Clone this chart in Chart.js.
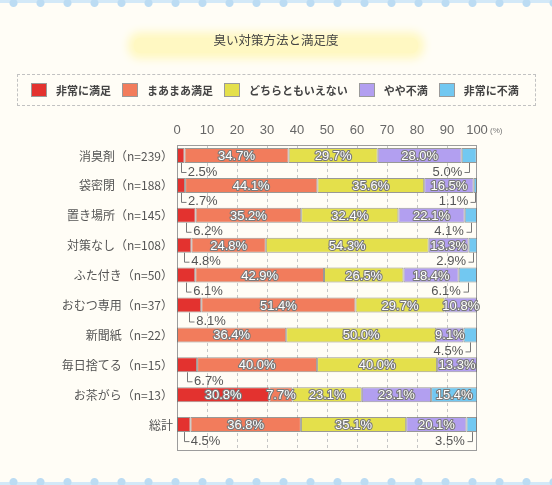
<!DOCTYPE html>
<html lang="ja">
<head>
<meta charset="utf-8">
<title>臭い対策方法と満足度</title>
<script src="https://cdn.jsdelivr.net/npm/chart.js@4.4.1/dist/chart.umd.min.js"></script>
<style>
  html, body { margin: 0; padding: 0; }
  body {
    width: 552px; height: 485px; position: relative; overflow: hidden;
    background: #fffdf6;
    font-family: "Noto Sans CJK JP", "Liberation Sans", sans-serif;
  }
  .scallop { position: absolute; left: 0; width: 552px; height: 9px; z-index: 2; }
  .scallop.top {
    top: 0;
    background:
      radial-gradient(circle at 50% 3px, #bcdcf3 3.5px, rgba(188,220,243,0) 4.5px) 0 0 / 27px 9px repeat-x,
      linear-gradient(#d3e9f8, #d3e9f8) 0 0 / 100% 3px no-repeat;
  }
  .scallop.bottom {
    bottom: 0;
    background:
      radial-gradient(circle at 50% 6px, #bcdcf3 3.5px, rgba(188,220,243,0) 4.5px) 0 0 / 27px 9px repeat-x,
      linear-gradient(#d3e9f8, #d3e9f8) 0 6px / 100% 3px no-repeat;
  }
  #chart { position: absolute; left: 0; top: 0; z-index: 0; }
  .glow {
    position: absolute; left: 134px; top: 38px; width: 284px; height: 15px;
    background: #fff8c2; border-radius: 6px;
    box-shadow: 0 0 8px 6px #fff8c2; z-index: 1;
  }
  .title {
    position: absolute; left: 0; top: 31px; width: 552px; text-align: center;
    font-size: 12.5px; color: #444; z-index: 1; line-height: 18px;
  }
  .legend {
    position: absolute; left: 17px; top: 74px; width: 519px; height: 32px;
    border: 1px dashed #c2c2c2; z-index: 1;
    display: flex; align-items: center; padding-left: 13px; box-sizing: border-box;
  }
  .legend .item { display: flex; align-items: center; margin-right: 11px; }
  .legend .box { width: 14px; height: 12px; border: 1px solid #9a9a9a; margin-right: 9px; }
  .legend .label { font-size: 11px; font-weight: bold; color: #444; white-space: nowrap; }
</style>
</head>
<body>
<div class="scallop top"></div>
<div class="glow"></div>
<div class="title">臭い対策方法と満足度</div>
<div class="legend" id="legend"></div>
<canvas id="chart" width="552" height="485"></canvas>
<div class="scallop bottom"></div>
<script>
const categories = ['消臭剤（n=239）', '袋密閉（n=188）', '置き場所（n=145）', '対策なし（n=108）',
  'ふた付き（n=50）', 'おむつ専用（n=37）', '新聞紙（n=22）', '毎日捨てる（n=15）', 'お茶がら（n=13）', '総計'];
const seriesNames = ['非常に満足', 'まあまあ満足', 'どちらともいえない', 'やや不満', '非常に不満'];
const verySatisfied   = [2.5, 2.7, 6.2, 4.8, 6.1, 8.1, 0, 6.7, 30.8, 4.5];
const fairlySatisfied = [34.7, 44.1, 35.2, 24.8, 42.9, 51.4, 36.4, 40.0, 7.7, 36.8];
const neutral         = [29.7, 35.6, 32.4, 54.3, 26.5, 29.7, 50.0, 40.0, 23.1, 35.1];
const slightlyUnhappy = [28.0, 16.5, 22.1, 13.3, 18.4, 10.8, 9.1, 13.3, 23.1, 20.1];
const veryUnhappy     = [5.0, 1.1, 4.1, 2.9, 6.1, 0, 4.5, 0, 15.4, 3.5];
const xTicks = [0, 10, 20, 30, 40, 50, 60, 70, 80, 90, 100];

const colors = ['#e3322f', '#f27c5c', '#e4e04b', '#b29ff0', '#72c8f1'];
const FRAME_EXTRA = 6; // frame runs a little below the last row
const numFont = '13px "Liberation Sans", Arial, sans-serif';

// legend (html)
const legendEl = document.getElementById('legend');
seriesNames.forEach((name, i) => {
  const item = document.createElement('div');
  item.className = 'item';
  item.innerHTML = '<span class="box" style="background:' + colors[i] + '"></span><span class="label">' + name + '</span>';
  legendEl.appendChild(item);
});

const allSeries = [verySatisfied, fairlySatisfied, neutral, slightlyUnhappy, veryUnhappy];

const datasets = allSeries.map((values, i) => ({
  label: seriesNames[i],
  data: values.map(v => v || null),
  backgroundColor: colors[i],
  borderColor: 'rgba(110,110,110,0.7)',
  borderWidth: 1,
  borderSkipped: false,
  stack: 'main',
  categoryPercentage: 0.595,
  barPercentage: 1.685
}));
// empty second stack, keeps the bars in the upper half of each row
datasets.push({
  label: 'pad',
  data: categories.map(() => null),
  stack: 'pad',
  categoryPercentage: 0.595,
  barPercentage: 1.685
});

const frameAndLabels = {
  id: 'frameAndLabels',
  beforeDatasetsDraw(chart) {
    const { ctx, chartArea: a, scales: { x } } = chart;
    const bottom = a.bottom + FRAME_EXTRA;
    ctx.save();
    ctx.lineWidth = 1;
    ctx.strokeStyle = '#c6c6c6';
    ctx.setLineDash([3, 3]);
    xTicks.slice(1, -1).forEach(v => {
      const px = Math.round(x.getPixelForValue(v)) + 0.5;
      ctx.beginPath();
      ctx.moveTo(px, a.top);
      ctx.lineTo(px, bottom);
      ctx.stroke();
    });
    ctx.setLineDash([]);
    ctx.strokeStyle = '#9c9c9c';
    ctx.strokeRect(Math.round(a.left) + 0.5, Math.round(a.top) + 0.5,
      Math.round(a.right - a.left) - 1, Math.round(bottom - a.top));
    ctx.restore();
  },
  afterDatasetsDraw(chart) {
    const { ctx } = chart;
    ctx.save();
    ctx.font = numFont;
    ctx.lineJoin = 'round';
    allSeries.forEach((values, di) => {
      const meta = chart.getDatasetMeta(di);
      meta.data.forEach((bar, i) => {
        const v = values[i];
        if (!v) return;
        const { x, y, base, height } = bar.getProps(['x', 'y', 'base', 'height'], true);
        const text = v.toFixed(1) + '%';
        const below = (di === 0 || di === allSeries.length - 1) && v < 10;
        if (below) {
          const cx = (x + base) / 2;
          const top = y + height / 2;
          const ty = top + 9;
          const dir = di === 0 ? 1 : -1;
          ctx.strokeStyle = '#777';
          ctx.lineWidth = 1;
          ctx.beginPath();
          ctx.moveTo(Math.round(cx) + 0.5, top);
          ctx.lineTo(Math.round(cx) + 0.5, ty + 0.5);
          ctx.lineTo(Math.round(cx) + 0.5 + dir * 5, ty + 0.5);
          ctx.stroke();
          ctx.fillStyle = '#555';
          ctx.textBaseline = 'middle';
          ctx.textAlign = dir > 0 ? 'left' : 'right';
          ctx.fillText(text, cx + dir * 7, ty);
        } else {
          const cx = (x + base) / 2;
          ctx.textAlign = 'center';
          ctx.textBaseline = 'middle';
          ctx.strokeStyle = '#7a7a7a';
          ctx.lineWidth = 2.2;
          ctx.strokeText(text, cx, y + 1);
          ctx.fillStyle = '#fff';
          ctx.fillText(text, cx, y + 1);
        }
      });
    });
    // unit next to the last tick
    const xs = chart.scales.x;
    ctx.font = '8px "Liberation Sans", Arial, sans-serif';
    ctx.fillStyle = '#777';
    ctx.textAlign = 'left';
    ctx.textBaseline = 'middle';
    ctx.fillText('(%)', xs.getPixelForValue(100) + 13, 131);
    ctx.restore();
  }
};

new Chart(document.getElementById('chart'), {
  type: 'bar',
  data: { labels: categories, datasets: datasets },
  options: {
    responsive: false,
    animation: false,
    indexAxis: 'y',
    layout: { padding: { top: 115, left: 0, right: 75, bottom: 41 } },
    scales: {
      x: {
        position: 'top',
        stacked: true,
        min: 0,
        max: 100,
        afterFit: axis => { axis.height = 30; },
        afterBuildTicks: axis => { axis.ticks = xTicks.map(v => ({ value: v })); },
        ticks: {
          padding: 7,
          color: '#666',
          font: { family: '"Liberation Sans", Arial, sans-serif', size: 13 }
        },
        grid: { display: false, drawTicks: false },
        border: { display: false }
      },
      y: {
        stacked: true,
        afterFit: axis => { axis.width = 177; },
        ticks: {
          padding: 4,
          labelOffset: -4,
          color: '#555',
          font: { family: '"Noto Sans CJK JP", sans-serif', size: 12 }
        },
        grid: { display: false, drawTicks: false },
        border: { display: false }
      }
    },
    plugins: {
      legend: { display: false },
      tooltip: { enabled: false }
    }
  },
  plugins: [frameAndLabels]
});
</script>
</body>
</html>
